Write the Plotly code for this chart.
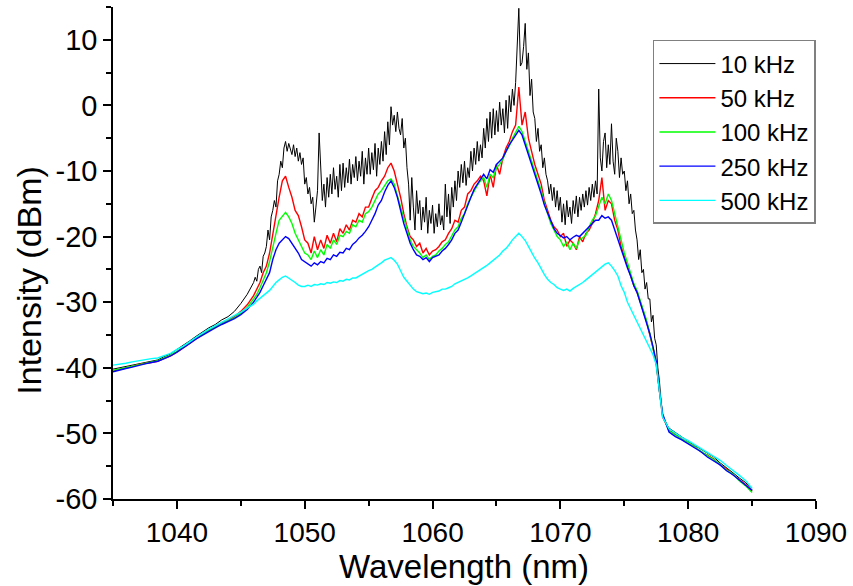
import numpy as np
import plotly.graph_objects as go

# wavelength grids (nm): coarse on the flat wings, finer over the gain band
wl = np.concatenate([np.arange(1035.0, 1046.0, 0.5),
                     np.arange(1046.0, 1078.01, 0.25),
                     np.arange(1078.5, 1085.01, 0.5)])
# the 10 kHz trace is much noisier, so it is sampled more finely
wl_fine = np.concatenate([np.arange(1035.0, 1046.0, 0.5),
                          np.arange(1046.0, 1078.01, 0.125),
                          np.arange(1078.5, 1085.01, 0.5)])

names = ['10 kHz', '50 kHz', '100 kHz', '250 kHz', '500 kHz']
colors = ['#000000', '#ff0000', '#00ff00', '#0000ff', '#00ffff']

# spectra in dBm
k10 = [-40.2, -40.0, -39.9, -39.6, -39.4, -39.3, -39.0, -38.8, -38.3, -37.9, -37.2,
       -36.6, -35.9, -35.2, -34.5, -33.9, -33.4, -32.7, -32.2, -31.4, -30.2, -28.8,
       -27.0, -26.2, -26.8, -25.0, -24.5, -25.5, -23.0, -22.5,
       -21.5, -19.0, -20.5, -17.0, -16.0, -14.5, -15.5, -11.5,
       -10.5, -8.5, -9.5, -6.5, -5.5, -7.0, -5.8, -6.8,
       -7.5, -6.0, -7.8, -6.5, -8.5, -7.2, -9.0, -8.0,
       -12.0, -11.0, -13.5, -12.5, -15.0, -14.0, -17.8, -15.5,
       -13.0, -4.2, -10.0, -14.5, -12.0, -15.5, -11.0, -14.0,
       -10.5, -13.5, -9.5, -12.8, -10.8, -14.0, -9.0, -13.0,
       -8.8, -12.5, -9.5, -11.8, -8.2, -12.0, -9.0, -11.0,
       -7.8, -11.5, -8.5, -10.8, -7.0, -12.0, -8.0, -10.5,
       -6.5, -10.5, -7.2, -9.8, -5.8, -10.8, -6.5, -9.0,
       -5.5, -8.5, -4.0, -7.5, -2.5, -6.0, -0.2, -3.0,
       -1.5, -4.0, -1.0, -3.5, -4.5, -2.0, -6.5, -5.0,
       -9.5, -12.0, -17.5, -11.0, -15.5, -19.0, -13.0, -16.5,
       -14.5, -19.0, -15.5, -17.8, -14.0, -19.5, -16.0, -18.0,
       -15.2, -19.5, -16.5, -18.5, -15.0, -18.2, -16.8, -19.0,
       -12.0, -17.0, -13.5, -18.0, -12.5, -15.5, -11.5, -14.5,
       -10.0, -12.5, -9.0, -11.8, -8.5, -12.2, -9.5, -11.0,
       -7.0, -10.0, -6.5, -9.0, -5.5, -8.5, -6.0, -8.0,
       -3.5, -6.5, -2.0, -5.5, -1.0, -5.0, -0.5, -4.5,
       -0.8, -4.0, 0.5, -3.0, -0.5, -4.2, 0.8, -3.5,
       1.5, -1.0, 2.5, 0.0, 3.5, 10.5, 14.8, 6.0,
       6.5, 9.0, 12.5, 5.5, 8.0, 1.5, 4.0, -1.0,
       -2.0, -5.5, -3.5, -7.0, -6.0, -9.5, -8.0, -10.5,
       -11.5, -13.5, -12.0, -14.5, -12.5, -15.5, -13.0, -16.0,
       -14.0, -17.8, -15.0, -18.2, -14.5, -17.0, -15.5, -18.0,
       -14.5, -16.5, -13.8, -17.0, -14.0, -16.0, -13.5, -15.5,
       -13.0, -15.2, -12.5, -14.5, -12.0, -14.0, -11.5, -13.5,
       2.5, -8.0, -10.0, -5.5, -4.2, -9.5, -6.0, -9.0,
       -2.8, -8.5, -10.5, -5.0, -7.0, -11.0, -8.0, -10.5,
       -10.0, -13.0, -11.5, -15.0, -13.5, -16.5, -16.0, -19.0,
       -20.5, -23.5, -22.0, -25.5, -25.0, -28.0, -27.0, -29.5,
       -29.5, -33.0, -32.0, -35.5, -36.5, -40.0, -42.0, -45.0,
       -47.5,
       -49.2, -49.9, -50.6, -51.2, -51.8, -52.4, -53.0, -53.6, -54.5, -55.2, -56.0,
       -56.8, -57.5, -58.6]

k50 = [-40.5, -40.3, -40.1, -39.8, -39.5, -39.4, -39.2, -39.0, -38.6, -38.2, -37.6,
       -37.0, -36.3, -35.6, -34.9, -34.3, -33.8, -33.2, -32.8, -32.2, -31.4, -30.4,
       -29.0, -28.0, -27.0, -25.5,
       -24.5, -22.5, -19.5, -16.5,
       -14.0, -11.5, -10.8, -12.5,
       -14.0, -16.0, -16.8, -18.5,
       -20.5, -21.0, -22.5, -20.0,
       -22.0, -20.5, -21.8, -19.8,
       -21.0, -19.5, -20.8, -18.8,
       -19.5, -18.2, -19.0, -17.5,
       -17.8, -16.5, -17.0, -15.5,
       -15.5, -14.2, -13.0, -12.5,
       -11.5, -10.8, -9.5, -8.8,
       -10.0, -12.0, -14.0, -16.5,
       -18.5, -20.0, -20.5, -21.5,
       -21.0, -22.5, -21.8, -22.8,
       -22.2, -22.0, -21.5, -20.8,
       -20.5, -19.5, -18.8, -17.5,
       -17.8, -16.0, -15.5, -13.5,
       -13.0, -12.0, -11.5, -10.8,
       -11.5, -13.8, -10.5, -12.5,
       -9.0, -10.5, -8.0, -6.5,
       -5.5, -4.0, -3.0, 2.8,
       -3.0, -1.0, -5.0, -7.0,
       -9.0, -10.5, -12.0, -14.5,
       -16.0, -17.5, -18.5, -19.0,
       -20.0, -19.5, -21.5, -20.5,
       -21.0, -22.0, -20.0, -20.8,
       -19.5, -19.0, -18.0, -16.5,
       -14.5, -11.0, -16.0, -14.5,
       -15.0, -17.5, -19.0, -21.5,
       -23.0, -24.5, -26.0, -27.5,
       -28.5, -30.0, -31.5, -33.0,
       -35.0, -37.0, -39.5, -44.0,
       -47.5,
       -49.5, -50.2, -50.8, -51.5, -52.0, -52.8, -53.3, -53.9, -54.8, -55.4, -56.3,
       -57.0, -57.8, -58.8]

k100 = [-40.4, -40.2, -40.0, -39.8, -39.5, -39.3, -39.1, -38.9, -38.5, -38.1, -37.5,
        -36.9, -36.2, -35.5, -34.9, -34.3, -33.8, -33.3, -32.9, -32.4, -31.7, -30.8,
        -29.5, -28.8, -27.8, -26.5,
        -25.5, -23.8, -21.5, -19.5,
        -17.5, -16.8, -16.3, -17.0,
        -18.0, -19.5, -20.5, -21.5,
        -22.5, -22.8, -23.5, -22.2,
        -23.2, -22.0, -22.8, -21.2,
        -21.8, -20.5, -21.2, -19.8,
        -20.0, -19.2, -19.5, -18.2,
        -18.5, -17.5, -17.8, -16.5,
        -16.2, -15.5, -14.5, -13.5,
        -13.0, -12.2, -11.5, -11.2,
        -12.0, -13.8, -15.5, -17.5,
        -19.0, -20.5, -21.5, -22.0,
        -22.5, -23.2, -22.8, -23.5,
        -23.0, -22.8, -22.2, -21.8,
        -21.2, -20.8, -20.0, -19.0,
        -18.5, -17.2, -16.5, -15.0,
        -14.0, -13.0, -12.2, -11.5,
        -11.0, -12.5, -10.5, -11.0,
        -9.5, -9.0, -8.2, -7.0,
        -6.2, -5.0, -4.0, -3.2,
        -4.0, -5.5, -7.0, -8.5,
        -10.0, -11.5, -13.0, -15.0,
        -16.5, -18.0, -19.0, -20.0,
        -20.5, -21.5, -20.8, -22.0,
        -21.0, -21.8, -20.5, -20.2,
        -19.8, -18.5, -17.5, -16.8,
        -15.5, -14.0, -15.0, -13.5,
        -14.5, -16.5, -18.5, -20.5,
        -22.5, -24.0, -25.5, -27.2,
        -28.2, -29.8, -31.2, -32.8,
        -34.8, -36.8, -39.2, -43.5,
        -47.2,
        -49.6, -50.3, -50.9, -51.4, -52.1, -52.7, -53.4, -54.0, -54.7, -55.6, -56.2,
        -57.2, -58.0, -59.0]

k250 = [-40.6, -40.3, -40.1, -39.9, -39.6, -39.4, -39.2, -39.0, -38.6, -38.2, -37.6,
        -37.0, -36.3, -35.6, -35.0, -34.4, -33.9, -33.4, -33.0, -32.5, -31.9, -31.1,
        -30.0, -29.3, -28.5, -27.5,
        -26.5, -25.5, -23.5, -22.0,
        -21.0, -20.5, -20.0, -20.3,
        -21.0, -21.8, -22.5, -23.5,
        -23.8, -24.2, -24.5, -24.0,
        -24.3, -23.8, -24.0, -23.3,
        -23.5, -22.8, -23.0, -22.4,
        -22.5, -21.8, -22.0, -21.2,
        -20.8, -20.2, -19.8, -19.2,
        -18.5, -17.5, -16.5, -15.2,
        -14.5, -13.2, -12.2, -11.5,
        -12.5, -14.0, -16.0, -18.0,
        -19.5, -21.0, -22.0, -22.8,
        -23.0, -23.5, -23.2, -23.8,
        -23.2, -23.0, -22.8, -22.2,
        -21.8, -21.2, -20.5, -19.5,
        -19.0, -17.8, -16.5, -15.0,
        -14.0, -12.8, -12.0, -11.2,
        -10.5, -11.2, -9.8, -10.2,
        -9.0, -8.5, -8.0, -7.0,
        -6.0, -5.3, -4.5, -3.8,
        -4.5, -6.0, -7.2, -8.8,
        -10.5, -12.0, -13.5, -15.2,
        -16.5, -17.8, -18.8, -19.5,
        -19.8, -20.2, -20.0, -20.5,
        -20.1, -19.8, -20.0, -19.5,
        -19.0, -18.5, -18.0, -17.5,
        -17.5, -16.8, -17.2, -17.0,
        -17.5, -19.0, -20.5, -22.0,
        -23.5, -24.8, -26.0, -27.5,
        -28.5, -30.0, -31.5, -33.0,
        -34.8, -36.8, -39.0, -43.5,
        -47.0,
        -49.8, -50.5, -51.0, -51.6, -52.3, -52.8, -53.6, -54.2, -54.8, -55.7, -56.3,
        -57.1, -57.9, -58.7]

k500 = [-39.6, -39.5, -39.3, -39.1, -38.9, -38.8, -38.6, -38.5, -38.1, -37.8, -37.2,
        -36.7, -36.0, -35.3, -34.7, -34.1, -33.6, -33.1, -32.6, -32.1, -31.5, -30.9,
        -30.3, -29.8, -29.4, -28.9,
        -28.6, -28.2, -27.6, -27.0,
        -26.6, -26.2, -26.0, -26.3,
        -26.6, -27.0, -27.4, -27.6,
        -27.6, -27.4, -27.6, -27.3,
        -27.4, -27.2, -27.3, -27.0,
        -27.1, -26.9, -27.0, -26.7,
        -26.8, -26.5, -26.6, -26.3,
        -26.3, -26.0, -25.8, -25.5,
        -25.2, -25.0, -24.6, -24.3,
        -24.0, -23.6, -23.4, -23.2,
        -23.6, -24.2, -25.2, -26.2,
        -26.8, -27.5, -28.0, -28.4,
        -28.5, -28.7, -28.6, -28.8,
        -28.5, -28.4, -28.3, -28.0,
        -28.0, -27.8, -27.6, -27.2,
        -27.0, -26.8, -26.5, -26.3,
        -26.0, -25.7, -25.4, -25.0,
        -24.8, -24.4, -24.0, -23.6,
        -23.3, -22.8, -22.2, -21.8,
        -21.2, -20.5, -20.0, -19.5,
        -20.0, -20.6, -21.5, -22.5,
        -23.3, -24.0, -25.0, -25.8,
        -26.5, -27.0, -27.3, -27.8,
        -28.0, -28.2, -28.0, -28.3,
        -27.9, -27.6, -27.4, -27.0,
        -26.6, -26.2, -25.8, -25.4,
        -25.0, -24.6, -24.2, -24.0,
        -24.5, -25.2, -26.0, -27.5,
        -28.5, -30.0, -31.0, -32.2,
        -33.2, -34.0, -35.0, -36.0,
        -37.0, -38.0, -39.5, -43.5,
        -47.5,
        -49.3, -50.0, -50.6, -51.1, -51.7, -52.3, -52.9, -53.5, -54.1, -54.9, -55.6,
        -56.4, -57.2, -58.4]

y_ticks = [-60, -50, -40, -30, -20, -10, 0, 10]
y_labels = ['-60', '-50', '-40', '-30', '-20', '-10', '0', '10']
x_ticks = [1040, 1050, 1060, 1070, 1080, 1090]

fig = go.Figure()
series = [(wl_fine, k10), (wl, k50), (wl, k100), (wl, k250), (wl, k500)]
for name, col, (xs, vals) in zip(names, colors, series):
    fig.add_trace(go.Scatter(x=xs, y=vals, mode='lines', name=name,
                             line=dict(color=col, width=1 if col == '#000000' else 1.4)))

font = 'Liberation Sans, Arial, sans-serif'
fig.update_xaxes(range=[1035, 1090], tickvals=x_ticks, automargin=False,
                 showline=True, linecolor='black', linewidth=1.5,
                 ticks='outside', ticklen=8, tickwidth=1.5, tickcolor='black',
                 minor=dict(ticks='outside', ticklen=5, tickwidth=1.5, tickcolor='black',
                            tick0=1035, dtick=5),
                 showgrid=False, zeroline=False,
                 tickfont=dict(size=28, color='black', family=font))
fig.update_yaxes(range=[-60, 15], tickvals=y_ticks, ticktext=y_labels, automargin=False,
                 showline=True, linecolor='black', linewidth=1.5,
                 ticks='outside', ticklen=8, tickwidth=1.5, tickcolor='black',
                 minor=dict(ticks='outside', ticklen=5, tickwidth=1.5, tickcolor='black',
                            tick0=-55, dtick=10),
                 showgrid=False, zeroline=False,
                 tickfont=dict(size=29, color='black', family=font))

fig.add_annotation(text='Wavelength (nm)', xref='paper', yref='paper',
                   x=0.499, y=-0.138, xanchor='center', yanchor='middle',
                   showarrow=False, font=dict(size=33, color='black', family=font))
fig.add_annotation(text='Intensity (dBm)', xref='paper', yref='paper',
                   x=-0.120, y=0.445, xanchor='center', yanchor='middle', textangle=-90,
                   showarrow=False, font=dict(size=34, color='black', family=font))

fig.update_layout(
    width=853, height=586,
    margin=dict(l=113, r=37, t=7, b=87),
    plot_bgcolor='white', paper_bgcolor='white',
    legend=dict(x=0.768, y=0.933, xanchor='left', yanchor='top',
                bordercolor='#808080', borderwidth=1.5, bgcolor='white',
                font=dict(size=24, color='black', family=font),
                itemwidth=56),
    showlegend=True,
)

# drop the browser's default 8px body margin so the figure sits at the page corner
fig.write_html("out.html", config={'displayModeBar': False},
               post_script="document.body.style.margin='0';")
